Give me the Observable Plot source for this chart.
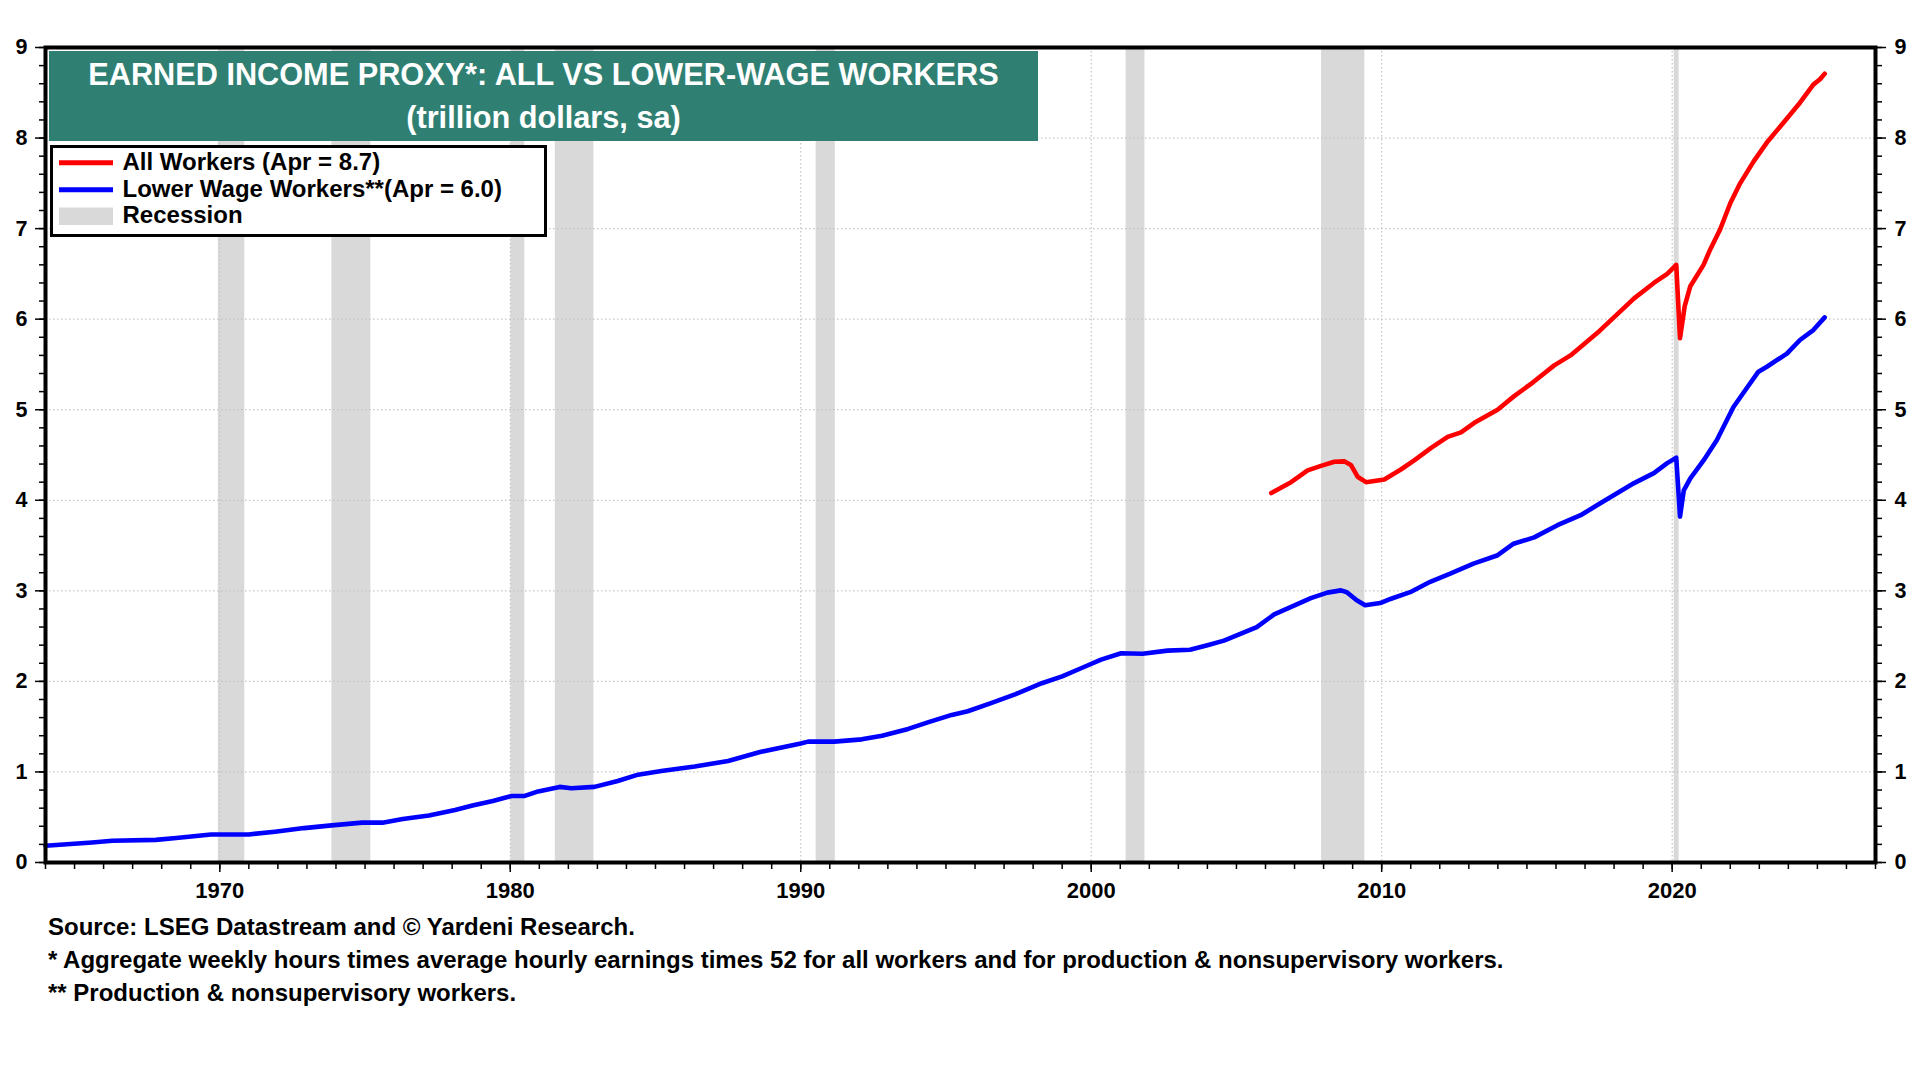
<!DOCTYPE html>
<html>
<head>
<meta charset="utf-8">
<script src="https://cdn.jsdelivr.net/npm/d3@7"></script>
<script src="https://cdn.jsdelivr.net/npm/@observablehq/plot@0.6"></script>
<style>
  html, body { margin: 0; padding: 0; background: #ffffff; }
  #wrap { position: relative; width: 1920px; height: 1080px; overflow: hidden; background: #fff; }
  #wrap > svg { position: absolute; left: 0; top: 0; }
</style>
</head>
<body>
<div id="wrap"></div>
<script>
// ---------- data ----------
const lowerWageYears = [1964.0, 1965.6, 1966.3, 1967.8, 1968.5, 1969.1, 1969.7, 1971.0, 1971.9, 1972.9,
  1973.85, 1974.9, 1975.6, 1976.3, 1977.2, 1978.1, 1978.7, 1979.4, 1980.05, 1980.5,
  1980.96, 1981.7, 1982.1, 1982.9, 1983.7, 1984.4, 1985.2, 1986.35, 1987.5, 1988.6,
  1990.0, 1990.25, 1991.15, 1992.1, 1992.8, 1993.7, 1994.4, 1995.2, 1995.75, 1996.55,
  1997.4, 1998.3, 1999.0, 1999.65, 2000.34, 2001.03, 2001.77, 2002.63, 2003.4, 2004.0,
  2004.57, 2005.26, 2005.7, 2006.3, 2007.0, 2007.56, 2008.13, 2008.6, 2008.8, 2009.14,
  2009.43, 2009.95, 2010.3, 2010.98, 2011.67, 2012.36, 2013.16, 2013.97, 2014.54, 2015.25,
  2016.05, 2016.85, 2017.54, 2018.69, 2019.37, 2019.83, 2020.14, 2020.27, 2020.4, 2020.62,
  2021.08, 2021.54, 2022.11, 2022.57, 2022.97, 2023.26, 2023.95, 2024.4, 2024.86, 2025.25];
const lowerWageValues = [0.185, 0.22, 0.24, 0.25, 0.27, 0.29, 0.31, 0.31, 0.34, 0.38,
  0.41, 0.44, 0.44, 0.48, 0.52, 0.58, 0.63, 0.68, 0.735, 0.735,
  0.785, 0.835, 0.82, 0.835, 0.90, 0.97, 1.01, 1.06, 1.12, 1.22,
  1.315, 1.335, 1.335, 1.36, 1.40, 1.475, 1.55, 1.63, 1.67, 1.76,
  1.86, 1.98, 2.055, 2.145, 2.24, 2.31, 2.305, 2.34, 2.35, 2.40,
  2.45, 2.54, 2.60, 2.74, 2.84, 2.92, 2.98, 3.005, 2.985, 2.895,
  2.84, 2.865, 2.91, 2.985, 3.10, 3.19, 3.30, 3.39, 3.52, 3.59,
  3.725, 3.835, 3.97, 4.19, 4.30, 4.41, 4.47, 3.82, 4.11, 4.24,
  4.44, 4.665, 5.03, 5.24, 5.42, 5.475, 5.62, 5.77, 5.88, 6.02];

const allWorkersYears = [2006.2, 2006.88, 2007.45, 2007.91, 2008.37, 2008.71, 2008.94, 2009.17, 2009.46, 2010.09,
  2010.66, 2011.12, 2011.69, 2012.27, 2012.73, 2013.19, 2013.99, 2014.56, 2015.2, 2015.94,
  2016.5, 2017.5, 2018.69, 2019.37, 2019.83, 2020.14, 2020.27, 2020.43, 2020.62, 2021.08,
  2021.31, 2021.65, 2022.0, 2022.34, 2022.8, 2023.26, 2023.83, 2024.4, 2024.86, 2025.09, 2025.25];
const allWorkersValues = [4.08, 4.20, 4.33, 4.38, 4.425, 4.43, 4.39, 4.26, 4.20, 4.23,
  4.34, 4.44, 4.575, 4.70, 4.75, 4.855, 5.00, 5.15, 5.30, 5.49,
  5.60, 5.87, 6.23, 6.40, 6.50, 6.60, 5.79, 6.14, 6.36, 6.60,
  6.77, 6.99, 7.28, 7.50, 7.74, 7.95, 8.17, 8.39, 8.59, 8.65, 8.71];

const recessionStarts = [1969.95, 1973.86, 1980.02, 1981.55, 1990.53, 2001.2, 2007.93, 2020.07];
const recessionEnds   = [1970.86, 1975.2, 1980.5, 1982.88, 1991.19, 2001.85, 2009.42, 2020.24];

const xLabelYears = [1970, 1980, 1990, 2000, 2010, 2020];
const yLabelValues = [0, 1, 2, 3, 4, 5, 6, 7, 8, 9];

const titleLines = ["EARNED INCOME PROXY*: ALL VS LOWER-WAGE WORKERS", "(trillion dollars, sa)"];
const legendLabels = ["All Workers (Apr = 8.7)", "Lower Wage Workers**(Apr = 6.0)", "Recession"];
const footerLines = [
  "Source: LSEG Datastream and \u00A9 Yardeni Research.",
  "* Aggregate weekly hours times average hourly earnings times 52 for all workers and for production & nonsupervisory workers.",
  "** Production & nonsupervisory workers."
];

// ---------- tables built from the arrays ----------
const lowerWage = lowerWageYears.map((x, i) => ({x, y: lowerWageValues[i]}));
const allWorkers = allWorkersYears.map((x, i) => ({x, y: allWorkersValues[i]}));
const recessions = recessionStarts.map((s, i) => ({s, e: recessionEnds[i]}));
const minorYears = d3.range(1964, 2028);
const minorY = d3.range(0, 46).map(i => i / 5);

const FONT = "'Liberation Sans', Arial, Helvetica, sans-serif";

const chart = Plot.plot({
  width: 1920,
  height: 1080,
  marginLeft: 45,
  marginRight: 45,
  marginTop: 47,
  marginBottom: 218,
  x: {domain: [1964, 2027], axis: null},
  y: {domain: [0, 9], axis: null},
  style: {fontFamily: FONT, fontWeight: "bold", fontSize: "21px", color: "#000", background: "transparent"},
  marks: [
    Plot.rect(recessions, {x1: "s", x2: "e", fill: "#d9d9d9"}),
    Plot.ruleY(yLabelValues.slice(1, 9), {stroke: "#c4c4c4", strokeWidth: 1.2, strokeDasharray: "1.5,2.5"}),
    Plot.ruleX(xLabelYears, {stroke: "#c4c4c4", strokeWidth: 1.2, strokeDasharray: "1.5,2.5"}),
    Plot.line(lowerWage, {x: "x", y: "y", stroke: "#0000ff", strokeWidth: 4.6, strokeLinejoin: "round", strokeLinecap: "round"}),
    Plot.line(allWorkers, {x: "x", y: "y", stroke: "#ff0000", strokeWidth: 4.6, strokeLinejoin: "round", strokeLinecap: "round"}),
    Plot.axisX(minorYears, {anchor: "bottom", label: null, tickSize: 7, strokeWidth: 1.5, tickFormat: () => ""}),
    Plot.axisX(xLabelYears, {anchor: "bottom", label: null, tickSize: 10, strokeWidth: 1.5, tickPadding: 10, tickFormat: d => String(d), fontSize: 22}),
    Plot.axisY(minorY, {anchor: "left", label: null, tickSize: 6, strokeWidth: 1.5, tickFormat: () => ""}),
    Plot.axisY(yLabelValues, {anchor: "left", label: null, tickSize: 10, strokeWidth: 1.5, tickPadding: 8, tickFormat: d => String(d), fontSize: 21.5}),
    Plot.axisY(minorY, {anchor: "right", label: null, tickSize: 6, strokeWidth: 1.5, tickFormat: () => ""}),
    Plot.axisY(yLabelValues, {anchor: "right", label: null, tickSize: 10, strokeWidth: 1.5, tickPadding: 9, tickFormat: d => String(d), fontSize: 21.5}),
    Plot.frame({stroke: "#000", strokeWidth: 4})
  ]
});

const wrap = document.getElementById("wrap");
wrap.appendChild(chart);

// ---------- overlay: title box, legend, footnotes ----------
const ov = d3.select(wrap).append("svg")
  .attr("width", 1920).attr("height", 1080)
  .style("font-family", FONT).style("font-weight", "bold");

ov.append("rect").attr("x", 49).attr("y", 51).attr("width", 989).attr("height", 90).attr("fill", "#2f7f73");
ov.selectAll("text.title").data(titleLines).join("text")
  .attr("class", "title")
  .attr("x", 543.5).attr("y", (d, i) => 85 + i * 43)
  .attr("text-anchor", "middle").attr("fill", "#fff").attr("font-size", 30.7)
  .text(d => d);

ov.append("rect").attr("x", 51.5).attr("y", 146.5).attr("width", 494).attr("height", 89)
  .attr("fill", "#fff").attr("stroke", "#000").attr("stroke-width", 3);
ov.append("line").attr("x1", 59).attr("x2", 113).attr("y1", 162.7).attr("y2", 162.7).attr("stroke", "#ff0000").attr("stroke-width", 5);
ov.append("line").attr("x1", 59).attr("x2", 113).attr("y1", 189.7).attr("y2", 189.7).attr("stroke", "#0000ff").attr("stroke-width", 5);
ov.append("rect").attr("x", 59).attr("y", 207.5).attr("width", 54).attr("height", 17.5).attr("fill", "#d9d9d9");
ov.selectAll("text.leg").data(legendLabels).join("text")
  .attr("class", "leg")
  .attr("x", 122.5).attr("y", (d, i) => 170 + i * 26.7)
  .attr("font-size", 24).attr("fill", "#000")
  .text(d => d);

ov.selectAll("text.foot").data(footerLines).join("text")
  .attr("class", "foot")
  .attr("x", 48).attr("y", (d, i) => 935 + i * 33)
  .attr("font-size", 24).attr("fill", "#000")
  .text(d => d);
</script>
</body>
</html>
